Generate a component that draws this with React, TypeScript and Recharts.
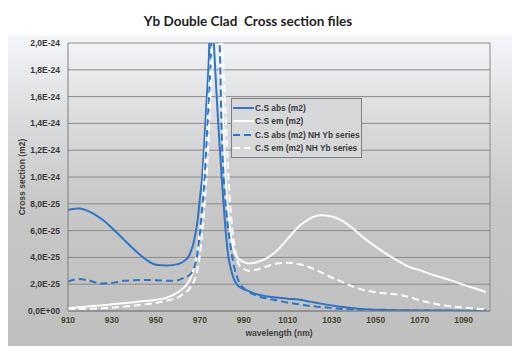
import React from 'react';
import { LineChart, Line, XAxis, YAxis, CartesianGrid, Legend, Label, ReferenceLine } from 'recharts';

// wavelength in nm, cross sections in units of 1e-25 m2
const wavelengths = [
  910, 915, 920, 925, 930, 935, 940, 945, 950, 955, 960, 963, 965,
  966, 967, 968, 969, 970, 971, 972, 973, 974, 975, 976, 977, 978, 979, 980,
  981, 982, 983, 984, 985, 986, 987, 988, 990, 992, 995,
  1000, 1005, 1010, 1015, 1020, 1025, 1030, 1035, 1040, 1045, 1050,
  1055, 1060, 1065, 1070, 1075, 1080, 1085, 1090, 1095, 1100,
];

const csAbs = [
  7.55, 7.65, 7.4, 6.9, 6.2, 5.4, 4.6, 3.9, 3.45, 3.4, 3.5, 3.75, 4.1,
  4.5, 5.0, 5.8, 6.8, 8.4, 9.9, 12.5, 15.5, 18.5, 23.0, 21.0, 18.0, 15.0, 12.3, 9.8,
  7.5, 5.5, 4.0, 3.2, 2.6, 2.2, 1.95, 1.8, 1.62, 1.5, 1.3,
  1.1, 1.0, 0.92, 0.85, 0.7, 0.55, 0.42, 0.3, 0.2, 0.14, 0.1,
  0.08, 0.06, 0.05, 0.04, 0.04, 0.03, 0.03, 0.02, 0.02, 0.02,
];

const csEm = [
  0.2, 0.28, 0.35, 0.42, 0.5, 0.58, 0.66, 0.74, 0.84, 1.0, 1.4, 1.8, 2.2,
  2.55, 3.0, 3.7, 4.6, 5.9, 7.5, 10.5, 13.0, 16.0, 19.0, 23.0, 25.0, 23.0, 21.0, 17.0,
  12.5, 9.0, 7.2, 5.8, 4.8, 4.3, 4.0, 3.85, 3.65, 3.55, 3.6,
  3.9, 4.5, 5.4, 6.3, 6.9, 7.15, 7.05, 6.7, 6.1, 5.4, 4.8,
  4.25, 3.75, 3.3, 3.05, 2.75, 2.5, 2.25, 1.95, 1.7, 1.42,
];

const csAbsNh = [
  2.2, 2.38, 2.25, 2.05, 2.1, 2.25, 2.3, 2.32, 2.3, 2.25, 2.3, 2.5, 2.65,
  2.8, 3.1, 3.6, 4.5, 5.8, 7.6, 9.5, 12.5, 15.5, 19.0, 24.0, 25.0, 22.5, 20.0, 13.0,
  9.5, 7.5, 6.0, 4.8, 3.8, 3.0, 2.5, 2.1, 1.7, 1.45, 1.2,
  0.95, 0.8, 0.62, 0.5, 0.38, 0.3, 0.22, 0.15, 0.12, 0.1, 0.08,
  0.06, 0.05, 0.04, 0.04, 0.03, 0.03, 0.02, 0.02, 0.02, 0.02,
];

const csEmNh = [
  0.12, 0.15, 0.17, 0.2, 0.25, 0.32, 0.4, 0.5, 0.6, 0.78, 1.0, 1.35, 1.6,
  1.85, 2.1, 2.5, 3.2, 4.2, 5.8, 7.6, 10.0, 13.0, 17.0, 21.5, 24.0, 25.0, 23.0, 20.5,
  17.5, 13.5, 10.0, 7.5, 5.8, 4.6, 3.8, 3.4, 3.15, 3.0, 3.05,
  3.3, 3.55, 3.6, 3.5, 3.25, 2.9, 2.5, 2.15, 1.8, 1.55, 1.4,
  1.3, 1.22, 1.05, 0.8, 0.6, 0.45, 0.33, 0.25, 0.18, 0.13,
];

const xTicks = [910, 930, 950, 970, 990, 1010, 1030, 1050, 1070, 1090];
const yTicks = [0, 2e-25, 4e-25, 6e-25, 8e-25, 1e-24, 1.2e-24, 1.4e-24, 1.6e-24, 1.8e-24, 2e-24];

const BLUE = '#2E75C5';

const series = [
  { key: 'abs', name: 'C.S abs (m2)', color: BLUE, dash: undefined },
  { key: 'em', name: 'C.S em (m2)', color: '#ffffff', dash: undefined },
  { key: 'absNh', name: 'C.S abs (m2) NH Yb series', color: BLUE, dash: '7 4' },
  { key: 'emNh', name: 'C.S em (m2) NH Yb series', color: '#ffffff', dash: '7 4' },
];

const data = wavelengths.map((wl, i) => ({
  wl,
  abs: csAbs[i] * 1e-25,
  em: csEm[i] * 1e-25,
  absNh: csAbsNh[i] * 1e-25,
  emNh: csEmNh[i] * 1e-25,
}));

// excel style: 2,0E-24 / 0,0E+00
function sciLabel(v: number) {
  if (v === 0) return '0,0E+00';
  const [m, e] = v.toExponential(1).split('e');
  const sign = e[0] === '-' ? '-' : '+';
  return m.replace('.', ',') + 'E' + sign + e.replace(/[+-]/, '').padStart(2, '0');
}

const FONT = '"Liberation Sans", Arial, sans-serif';

function LegendBox() {
  return (
    <div
      style={{
        border: '1px solid #7f7f7f',
        background: '#d6d8da',
        padding: '2px 0 2px 1px',
        fontFamily: FONT,
        fontSize: 8.4,
        fontWeight: 'bold',
        color: '#3a3a3a',
      }}
    >
      {series.map((s) => (
        <div key={s.key} style={{ display: 'flex', alignItems: 'center', height: 13.5 }}>
          <svg width={21} height={6}>
            <line x1={0} y1={3} x2={21} y2={3} stroke={s.color} strokeWidth={2} strokeDasharray={s.dash} />
          </svg>
          <span style={{ marginLeft: 1, whiteSpace: 'nowrap' }}>{s.name}</span>
        </div>
      ))}
    </div>
  );
}

export default function App() {
  return (
    <div style={{ width: 505 }}>
      <div
        style={{
          height: 27,
          lineHeight: '27px',
          textAlign: 'center',
          fontFamily: 'Lato, "Open Sans", sans-serif',
          fontWeight: 'bold',
          fontSize: 13.5,
          color: '#1e1e1e',
          paddingRight: 25,
        }}
      >
        Yb Double Clad&nbsp; Cross section files
      </div>
      <div
        style={{
          width: 505,
          height: 311,
          background: 'linear-gradient(to bottom, #f4f6f9 0%, #dcdddf 25%, #c7c7c7 55%, #bfbfbf 100%)',
        }}
      >
        <LineChart width={505} height={311} data={data} margin={{ top: 8, right: 23, bottom: 0, left: 0 }}>
          <CartesianGrid vertical={false} stroke="#8a8a8a" horizontalValues={yTicks} />
          <XAxis
            dataKey="wl"
            type="number"
            domain={[910, 1102]}
            ticks={xTicks}
            allowDataOverflow
            height={35}
            stroke="#7f7f7f"
            tickLine={false}
            tickSize={0}
            tickMargin={6}
            tick={{ fill: '#44442a', fontSize: 8.5, fontWeight: 'bold', fontFamily: FONT }}
          >
            <Label
              content={(props: any) => {
                const vb = props.viewBox;
                return (
                  <text
                    x={vb.x + vb.width / 2}
                    y={vb.y + 22}
                    textAnchor="middle"
                    dominantBaseline="central"
                    fill="#3f3f3f"
                    fontSize={8.5}
                    fontWeight="bold"
                    fontFamily={FONT}
                  >
                    wavelength (nm)
                  </text>
                );
              }}
            />
          </XAxis>
          <YAxis
            type="number"
            domain={[0, 2e-24]}
            ticks={yTicks}
            allowDataOverflow
            width={60}
            stroke="#7f7f7f"
            tickLine={false}
            tickSize={0}
            tickMargin={8}
            tickFormatter={sciLabel}
            tick={{ fill: '#3a3a3a', fontSize: 8.5, fontWeight: 'bold', fontFamily: FONT }}
          >
            <Label
              content={(props: any) => {
                const vb = props.viewBox;
                const cx = vb.x + 14;
                const cy = vb.y + vb.height / 2;
                return (
                  <text
                    x={cx}
                    y={cy}
                    transform={`rotate(-90 ${cx} ${cy})`}
                    textAnchor="middle"
                    dominantBaseline="central"
                    fill="#3f3f3f"
                    fontSize={8.5}
                    fontWeight="bold"
                    fontFamily={FONT}
                  >
                    Cross section (m2)
                  </text>
                );
              }}
            />
          </YAxis>
          <ReferenceLine x={1102} stroke="#8a8a8a" />
          {series.map((s) => (
            <Line
              key={s.key}
              type="monotone"
              dataKey={s.key}
              name={s.name}
              stroke={s.color}
              strokeWidth={2}
              strokeDasharray={s.dash}
              dot={false}
              activeDot={false}
              isAnimationActive={false}
            />
          ))}
          <Legend
            layout="vertical"
            align="center"
            verticalAlign="middle"
            wrapperStyle={{ left: 223, top: 63, width: 131 }}
            content={() => <LegendBox />}
          />
        </LineChart>
      </div>
    </div>
  );
}
